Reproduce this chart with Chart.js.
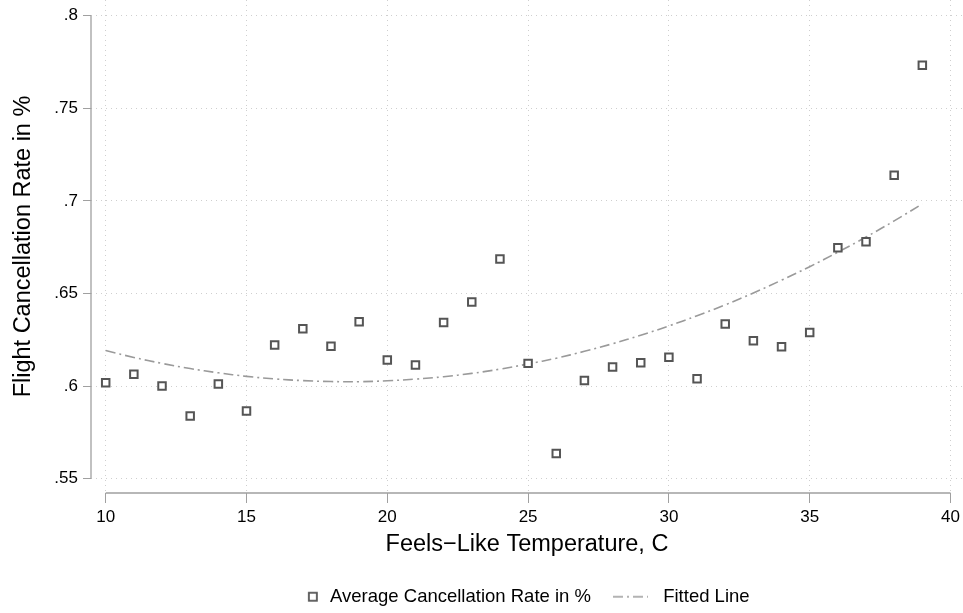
<!DOCTYPE html>
<html>
<head>
<meta charset="utf-8">
<script src="https://cdn.jsdelivr.net/npm/chart.js@4.4.1/dist/chart.umd.min.js"></script>
<style>
  html, body { margin: 0; padding: 0; background: #fff; }
  #wrap { width: 963px; height: 613px; }
</style>
</head>
<body>
<div id="wrap"><canvas id="chart"></canvas></div>
<script>
const temps = [10, 11, 12, 13, 14, 15, 16, 17, 18, 19, 20, 21, 22, 23, 24,
               25, 26, 27, 28, 29, 30, 31, 32, 33, 34, 35, 36, 37, 38, 39];

const cancelRate = [
    0.6019, 0.6064, 0.6001, 0.5839, 0.6012, 0.5866, 0.6222, 0.6310, 0.6215, 0.6348,
    0.6141, 0.6114, 0.6343, 0.6454, 0.6686, 0.6123, 0.5636, 0.6030, 0.6103, 0.6127,
    0.6156, 0.6040, 0.6335, 0.6245, 0.6213, 0.6289, 0.6747, 0.6780, 0.7138, 0.7732
];

const fittedLine = [
    0.6192, 0.6155, 0.6123, 0.6095, 0.6072, 0.6053, 0.6039, 0.6030, 0.6025, 0.6024,
    0.6029, 0.6038, 0.6051, 0.6069, 0.6092, 0.6120, 0.6151, 0.6188, 0.6229, 0.6275,
    0.6325, 0.6380, 0.6439, 0.6503, 0.6572, 0.6645, 0.6723, 0.6805, 0.6892, 0.6984
];

const xTicks = [10, 15, 20, 25, 30, 35, 40];
const yTicks = [0.55, 0.6, 0.65, 0.7, 0.75, 0.8];

Chart.defaults.font.family = '"Liberation Sans", Arial, sans-serif';
Chart.defaults.color = '#000';

// little pictures for the legend keys
function legendKey(draw) {
    const c = document.createElement('canvas');
    c.width = 53;
    c.height = 18;
    draw(c.getContext('2d'));
    return c;
}
const squareKey = legendKey(ctx => {
    ctx.strokeStyle = '#555';
    ctx.lineWidth = 1.8;
    ctx.strokeRect(41, 5, 8, 8);
});
const lineKey = legendKey(ctx => {
    ctx.strokeStyle = '#9a9a9a';
    ctx.lineWidth = 1.6;
    ctx.setLineDash([10, 4, 2, 4]);
    ctx.beginPath();
    ctx.moveTo(12, 9);
    ctx.lineTo(47, 9);
    ctx.stroke();
});

// no extra room for edge labels, the plot region is fixed
function noPad(s) {
    s.paddingLeft = 0;
    s.paddingRight = 0;
    s.paddingTop = 0;
    s.paddingBottom = 0;
}

// stata style axis lines: only from first to last tick
const axisLines = {
    id: 'axisLines',
    beforeDatasetsDraw(chart) {
        const {ctx, chartArea, scales: {x, y}} = chart;
        ctx.save();
        ctx.strokeStyle = '#a0a0a0';
        ctx.lineWidth = 1.3;
        ctx.beginPath();
        ctx.moveTo(chartArea.left, y.getPixelForValue(yTicks[yTicks.length - 1]));
        ctx.lineTo(chartArea.left, y.getPixelForValue(yTicks[0]));
        ctx.moveTo(x.getPixelForValue(xTicks[0]), chartArea.bottom);
        ctx.lineTo(x.getPixelForValue(xTicks[xTicks.length - 1]), chartArea.bottom);
        ctx.stroke();
        ctx.restore();
    },
    afterLayout(chart) {
        // legend is centred on the plot region, nudge for the blank part of the keys
        chart.legend.left -= 18.3;
        chart.legend.right -= 18.3;
    }
};

const data = {
    datasets: [{
        type: 'scatter',
        label: 'Average Cancellation Rate in %',
        data: temps.map((t, i) => ({x: t, y: cancelRate[i]})),
        pointStyle: 'rect',
        pointRadius: 5.3,
        borderColor: '#555',
        backgroundColor: '#fff',
        borderWidth: 2,
        order: 0
    }, {
        type: 'line',
        label: 'Fitted Line',
        data: temps.map((t, i) => ({x: t, y: fittedLine[i]})),
        borderColor: '#9a9a9a',
        borderWidth: 1.6,
        borderDash: [10, 4, 2, 4],
        pointRadius: 0,
        tension: 0.4,
        fill: false,
        order: 1
    }]
};

const config = {
    type: 'scatter',
    data: data,
    plugins: [axisLines],
    options: {
        responsive: true,
        maintainAspectRatio: false,
        animation: false,
        devicePixelRatio: 1,
        layout: {autoPadding: false, padding: {top: 0, left: 0, right: 0, bottom: -3}},
        plugins: {
            tooltip: {enabled: false},
            legend: {
                position: 'bottom',
                fullSize: false,
                labels: {
                    usePointStyle: true,
                    pointStyleWidth: 53,
                    padding: 10,
                    color: '#000',
                    font: {size: 18.5},
                    generateLabels: () => [
                        {text: data.datasets[0].label, pointStyle: squareKey, datasetIndex: 0, lineWidth: 0},
                        {text: data.datasets[1].label, pointStyle: lineKey, datasetIndex: 1, lineWidth: 0}
                    ]
                }
            }
        },
        scales: {
            x: {
                type: 'linear',
                min: 9.478,
                max: 40.444,
                afterBuildTicks: s => { s.ticks = xTicks.map(v => ({value: v})); },
                afterFit: s => { s.height = 84.5; noPad(s); },
                ticks: {
                    font: {size: 17},
                    color: '#000',
                    padding: 4,
                    autoSkip: false,
                    maxRotation: 0,
                    callback: v => String(v)
                },
                grid: {
                    color: '#cfcfcf',
                    lineWidth: 1,
                    tickColor: '#a0a0a0',
                    tickLength: 10,
                    tickBorderDash: []
                },
                border: {display: false, dash: [1, 4]},
                title: {
                    display: true,
                    text: 'Feels\u2212Like Temperature, C',
                    font: {size: 23.5},
                    color: '#000',
                    padding: {top: 0, bottom: 18.4}
                }
            },
            y: {
                type: 'linear',
                min: 0.54234,
                max: 0.80842,
                afterBuildTicks: s => { s.ticks = yTicks.map(v => ({value: v})); },
                afterFit: s => { s.width = 91; noPad(s); },
                ticks: {
                    font: {size: 17},
                    color: '#000',
                    padding: 5,
                    autoSkip: false,
                    callback: v => v.toFixed(2).replace(/^0/, '').replace(/0$/, '')
                },
                grid: {
                    color: '#cfcfcf',
                    lineWidth: 1,
                    tickColor: '#a0a0a0',
                    tickLength: 8,
                    tickBorderDash: []
                },
                border: {display: false, dash: [1, 4]},
                title: {
                    display: true,
                    text: 'Flight Cancellation Rate in %',
                    font: {size: 23.5},
                    color: '#000',
                    padding: {top: 9, bottom: 0}
                }
            }
        }
    }
};

const chart = new Chart(document.getElementById('chart'), config);
</script>
</body>
</html>
